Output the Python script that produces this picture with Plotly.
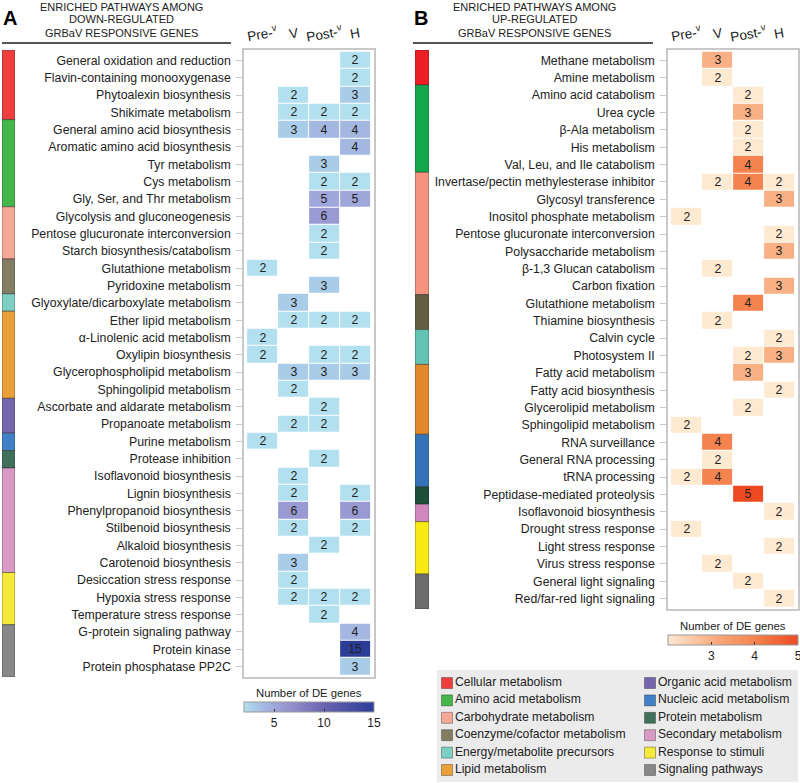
import plotly.graph_objects as go

N = None
FONT = "Liberation Sans, Arial, sans-serif"

col_labels = ["Pre-<sup>v</sup>", "V", "Post-<sup>v</sup>", "H"]

categories = ["Cellular metabolism", "Amino acid metabolism", "Carbohydrate metabolism",
              "Coenzyme/cofactor metabolism", "Energy/metabolite precursors", "Lipid metabolism",
              "Organic acid metabolism", "Nucleic acid metabolism", "Protein metabolism",
              "Secondary metabolism", "Response to stimuli", "Signaling pathways"]
colors_A = ["#ef3e3e", "#45b649", "#f6a897", "#837d64", "#7dcfc3", "#e9a038",
            "#7465ac", "#3f80c6", "#41705b", "#d899c4", "#f5ea3a", "#888888"]
colors_B = ["#ed1f26", "#12a84b", "#f4937e", "#645d42", "#63c4b4", "#e4892b",
            "#7465ac", "#3672b8", "#1d4f37", "#cf88bd", "#f7ea14", "#6d6d6d"]

# ---------------- Panel A (down-regulated) ----------------
pathways_A = ["General oxidation and reduction", "Flavin-containing monooxygenase",
              "Phytoalexin biosynthesis", "Shikimate metabolism", "General amino acid biosynthesis",
              "Aromatic amino acid biosynthesis", "Tyr metabolism", "Cys metabolism",
              "Gly, Ser, and Thr metabolism", "Glycolysis and gluconeogenesis",
              "Pentose glucuronate interconversion", "Starch biosynthesis/catabolism",
              "Glutathione metabolism", "Pyridoxine metabolism", "Glyoxylate/dicarboxylate metabolism",
              "Ether lipid metabolism", "α-Linolenic acid metabolism", "Oxylipin biosynthesis",
              "Glycerophospholipid metabolism", "Sphingolipid metabolism",
              "Ascorbate and aldarate metabolism", "Propanoate metabolism", "Purine metabolism",
              "Protease inhibition", "Isoflavonoid biosynthesis", "Lignin biosynthesis",
              "Phenylpropanoid biosynthesis", "Stilbenoid biosynthesis", "Alkaloid biosynthesis",
              "Carotenoid biosynthesis", "Desiccation stress response", "Hypoxia stress response",
              "Temperature stress response", "G-protein signaling pathway", "Protein kinase",
              "Protein phosphatase PP2C"]
A_pre = [N, N, N, N, N, N, N, N, N, N, N, N, 2, N, N, N, 2, 2, N, N, N, N, 2, N, N, N, N, N, N, N, N, N, N, N, N, N]
A_v = [N, N, 2, 2, 3, N, N, N, N, N, N, N, N, N, 3, 2, N, N, 3, 2, N, 2, N, N, 2, 2, 6, 2, N, 3, 2, 2, N, N, N, N]
A_post = [N, N, N, 2, 4, N, 3, 2, 5, 6, 2, 2, N, 3, N, 2, N, 2, 3, N, 2, 2, N, 2, N, N, N, N, 2, N, N, 2, 2, N, N, N]
A_h = [2, 2, 3, 2, 4, 4, N, 2, 5, N, N, N, N, N, N, 2, N, 2, 3, N, N, N, N, N, N, 2, 6, 2, N, N, N, 2, N, 4, 15, 3]
A_group_sizes = [4, 5, 3, 2, 1, 5, 2, 1, 1, 6, 3, 3]

# ---------------- Panel B (up-regulated) ----------------
pathways_B = ["Methane metabolism", "Amine metabolism", "Amino acid catabolism", "Urea cycle",
              "β-Ala metabolism", "His metabolism", "Val, Leu, and Ile catabolism",
              "Invertase/pectin methylesterase inhibitor", "Glycosyl transference",
              "Inositol phosphate metabolism", "Pentose glucuronate interconversion",
              "Polysaccharide metabolism", "β-1,3 Glucan catabolism", "Carbon fixation",
              "Glutathione metabolism", "Thiamine biosynthesis", "Calvin cycle", "Photosystem II",
              "Fatty acid metabolism", "Fatty acid biosynthesis", "Glycerolipid metabolism",
              "Sphingolipid metabolism", "RNA surveillance", "General RNA processing",
              "tRNA processing", "Peptidase-mediated proteolysis", "Isoflavonoid biosynthesis",
              "Drought stress response", "Light stress response", "Virus stress response",
              "General light signaling", "Red/far-red light signaling"]
B_pre = [N, N, N, N, N, N, N, N, N, 2, N, N, N, N, N, N, N, N, N, N, N, 2, N, N, 2, N, N, 2, N, N, N, N]
B_v = [3, 2, N, N, N, N, N, 2, N, N, N, N, 2, N, N, 2, N, N, N, N, N, N, 4, 2, 4, N, N, N, N, 2, N, N]
B_post = [N, N, 2, 3, 2, 2, 4, 4, N, N, N, N, N, N, 4, N, N, 2, 3, N, 2, N, N, N, N, 5, N, N, N, N, 2, N]
B_h = [N, N, N, N, N, N, N, 2, 3, N, 2, 3, N, 3, N, N, 2, 3, N, 2, N, N, N, N, N, N, 2, N, 2, N, N, 2]
B_group_sizes = [2, 5, 7, 2, 2, 4, 0, 3, 1, 1, 3, 2]

scale_A = [[0, "#b3e0ee"], [1 / 13, "#a9cce8"], [2 / 13, "#a4b7e1"], [3 / 13, "#a0a7db"],
           [4 / 13, "#9a9ad2"], [0.62, "#6862ae"], [1, "#2c3d98"]]
scale_B = [[0, "#fee9d1"], [1 / 3, "#f8b084"], [2 / 3, "#f5834f"], [1, "#ee4a22"]]

W, H = 800, 783


def px(x):
    return x / W


def py(y):
    return 1 - y / H


fig = go.Figure()


def add_panel(idx_heat, idx_strip, names, cols, sizes, colors, scale, zmax, ticks,
              box_x, box_y, strip_x, cb_y):
    n = len(names)
    z = [[c[i] for c in cols] for i in range(n)]
    txt = [["" if v is None else str(v) for v in row] for row in z]
    xa = "x" if idx_heat == 1 else "x%d" % idx_heat
    ya = "y" if idx_heat == 1 else "y%d" % idx_heat
    fig.add_trace(go.Heatmap(
        z=z, x=list(range(4)), y=list(range(n)), text=txt, texttemplate="%{text}",
        textfont=dict(family=FONT, size=12.3, color="#222"),
        colorscale=scale, zmin=2, zmax=zmax, xgap=1, ygap=1, hoverongaps=False,
        xaxis=xa, yaxis=ya,
        colorbar=dict(orientation="h", x=px((box_x[0] + box_x[1]) / 2), xanchor="center",
                      y=py(cb_y), yanchor="top", len=box_x[1] - box_x[0], lenmode="pixels",
                      thickness=10, thicknessmode="pixels", outlinewidth=1, outlinecolor="#999",
                      ticks="inside", ticklen=3, tickcolor="#333", tickvals=ticks,
                      ticklabeloverflow="allow",
                      tickfont=dict(family=FONT, size=12, color="#222"),
                      xpad=0, ypad=0)))
    fig.add_annotation(x=px((box_x[0] + box_x[1]) / 2), y=py(cb_y - 9), xref="paper",
                       yref="paper", text="Number of DE genes", showarrow=False,
                       xanchor="center", yanchor="middle",
                       font=dict(family=FONT, size=11.3, color="#222"))
    # category strip
    starts, cnt, cl, nm = [], [], [], []
    s = 0
    for k, sz in enumerate(sizes):
        if sz > 0:
            starts.append(s - 0.5)
            cnt.append(sz)
            cl.append(colors[k])
            nm.append(categories[k])
        s += sz
    fig.add_trace(go.Bar(x=[0] * len(cnt), y=cnt, base=starts, width=1, text=nm,
                         textposition="none", hoverinfo="text",
                         marker=dict(color=cl, line=dict(color="rgba(40,40,40,0.6)", width=0.8)),
                         xaxis="x%d" % idx_strip, yaxis="y%d" % idx_strip, showlegend=False))
    dom_y = [py(box_y[1]), py(box_y[0])]
    axk = "xaxis" if idx_heat == 1 else "xaxis%d" % idx_heat
    ayk = "yaxis" if idx_heat == 1 else "yaxis%d" % idx_heat
    fig.update_layout(**{
        axk: dict(domain=[px(box_x[0]), px(box_x[1])], range=[-0.6, 3.6], showticklabels=False,
                  ticks="", showgrid=False, zeroline=False, showline=True, mirror=True,
                  linecolor="#c8c8c8", linewidth=1.5, anchor=ya),
        ayk: dict(domain=dom_y, range=[n - 0.4, -0.6], tickvals=list(range(n)), ticktext=names,
                  ticks="outside", ticklen=6, tickcolor="#c8c8c8", tickwidth=1,
                  showgrid=False, zeroline=False, showline=True, mirror=True,
                  linecolor="#c8c8c8", linewidth=1.5, anchor=xa, ticklabelstandoff=3,
                  tickfont=dict(family=FONT, size=12.3, color="#222")),
        "xaxis%d" % idx_strip: dict(domain=[px(strip_x[0]), px(strip_x[1])], range=[-0.5, 0.5],
                                    visible=False, anchor="y%d" % idx_strip),
        "yaxis%d" % idx_strip: dict(domain=dom_y, range=[n - 0.5, -0.5], visible=False,
                                    anchor="x%d" % idx_strip),
    })
    for i, lab in enumerate(col_labels):
        fig.add_annotation(x=i, xref=xa, y=py(33), yref="paper", text=lab, showarrow=False,
                           textangle=-10, font=dict(family=FONT, size=13.5, color="#222"),
                           xanchor="center", yanchor="middle")


add_panel(1, 2, pathways_A, [A_pre, A_v, A_post, A_h], A_group_sizes, colors_A, scale_A, 15,
          [5, 10, 15], (244, 374), (50, 677), (2, 15), 702)
add_panel(3, 4, pathways_B, [B_pre, B_v, B_post, B_h], B_group_sizes, colors_B, scale_B, 5,
          [3, 4, 5], (668, 798), (50, 609), (415, 429), 635)

# ---------------- category legend ----------------
for i, (name, c) in enumerate(zip(categories, colors_A)):
    fig.add_trace(go.Scatter(x=[i // 6], y=[i % 6], mode="markers+text", text=[name],
                             textposition="middle right", cliponaxis=False, hoverinfo="skip",
                             textfont=dict(family=FONT, size=12.2, color="#222"),
                             marker=dict(symbol="square", size=11, color=c,
                                         line=dict(color="rgba(0,0,0,0.3)", width=1)),
                             xaxis="x5", yaxis="y5", showlegend=False))
fig.update_layout(
    xaxis5=dict(domain=[px(437), px(798)], range=[-0.0493, 1.729], visible=False, anchor="y5"),
    yaxis5=dict(domain=[py(782), py(670)], range=[5.69, -0.747], visible=False, anchor="x5"),
)
fig.add_shape(type="rect", xref="x5 domain", yref="y5 domain", x0=0, x1=1, y0=0, y1=1,
              fillcolor="#ebebeb", line=dict(width=0), layer="below")

# ---------------- titles ----------------
for cx, letter, mid, x0, x1 in [(121, "A", "DOWN-REGULATED", 2, 231),
                                (534, "B", "UP-REGULATED", 413, 653)]:
    for j, line in enumerate(["ENRICHED PATHWAYS AMONG", mid, "GRBaV RESPONSIVE GENES"]):
        fig.add_annotation(x=px(cx), y=py(6.5 + 13 * j), xref="paper", yref="paper", text=line,
                           showarrow=False, xanchor="center", yanchor="middle",
                           font=dict(family=FONT, size=11, color="#222"))
    fig.add_annotation(x=px(x0 + 7.5), y=py(18), xref="paper", yref="paper",
                       text="<b>%s</b>" % letter, showarrow=False, xanchor="center",
                       yanchor="middle", font=dict(family=FONT, size=20, color="#000"))
    fig.add_shape(type="line", xref="paper", yref="paper", x0=px(x0), x1=px(x1),
                  y0=py(43), y1=py(43), line=dict(color="#555", width=2))

fig.update_layout(width=W, height=H, margin=dict(l=0, r=0, t=0, b=0),
                  paper_bgcolor="white", plot_bgcolor="white", showlegend=False,
                  barmode="overlay", font=dict(family=FONT))
fig.write_html("out.html", config={"displayModeBar": False},
               post_script="document.body.style.margin='0';document.body.style.overflow='hidden';")
